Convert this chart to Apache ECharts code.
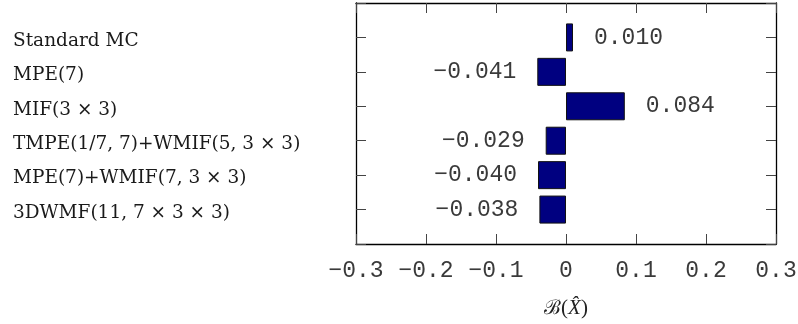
<!DOCTYPE html>
<html>
<head>
<meta charset="utf-8">
<script src="https://cdn.jsdelivr.net/npm/echarts@6/dist/echarts.min.js"></script>
<style>html,body{margin:0;padding:0;background:#fff;}#c{width:798px;height:324px;}</style>
</head>
<body>
<div id="c"></div>
<script>
// Data
const categories = ['Standard MC', 'MPE(7)', 'MIF(3 × 3)', 'TMPE(1/7, 7)+WMIF(5, 3 × 3)', 'MPE(7)+WMIF(7, 3 × 3)', '3DWMF(11, 7 × 3 × 3)'];
const values = [0.010, -0.041, 0.084, -0.029, -0.040, -0.038];
const xTicks = [-0.3, -0.2, -0.1, 0, 0.1, 0.2, 0.3];

// padded categories so ticks sit on the bar centres
const cats = [''].concat(categories, ['']);
const vals = [null].concat(values, [null]);

const fmtNum = (v, d) => {
  if (Math.abs(v) < 1e-9) return '0';
  return v.toFixed(d).replace('-', '\u2212');
};

const chart = echarts.init(document.getElementById('c'), null, {renderer: 'canvas'});
const monoFont = '"Liberation Mono", "Courier New", monospace';
const serifFont = '"DejaVu Serif", "Liberation Serif", serif';
const tickStyle = {show: true, inside: true, length: 10, lineStyle: {color: '#444', width: 1}};
const lineStyle = {show: true, onZero: false, lineStyle: {color: '#000', width: 1.3}};

chart.setOption({
  animation: false,
  grid: {left: 356, right: 22, top: 3, bottom: 80, containLabel: false, outerBoundsMode: 'none'},
  xAxis: [{
    type: 'value', min: xTicks[0], max: xTicks[xTicks.length - 1], interval: 0.1, position: 'bottom',
    axisLine: lineStyle, axisTick: tickStyle, splitLine: {show: false},
    axisLabel: {margin: 15, fontFamily: monoFont, fontSize: 23, color: '#3a3a3a',
      formatter: v => fmtNum(v, 1)},
    name: '{b|ℬ}{n|(}{x|X̂}{n|)}', nameLocation: 'middle', nameGap: 54,
    nameTextStyle: {rich: {
      b: {fontFamily: '"DejaVu Serif", serif', fontSize: 20, color: '#222'},
      n: {fontFamily: '"Liberation Serif", serif', fontSize: 21, color: '#222'},
      x: {fontFamily: '"Liberation Serif", serif', fontStyle: 'italic', fontSize: 21, color: '#222'}
    }}
  }, {
    type: 'value', min: xTicks[0], max: xTicks[xTicks.length - 1], interval: 0.1, position: 'top',
    axisLine: lineStyle, axisTick: tickStyle, axisLabel: {show: false}, splitLine: {show: false}
  }],
  yAxis: [{
    type: 'category', data: cats, inverse: true, boundaryGap: false, position: 'left',
    axisLine: lineStyle, axisTick: tickStyle,
    axisLabel: {margin: 343, align: 'left', interval: 0,
      formatter: v => v ? '{a|' + v + '}' : '',
      rich: {a: {fontFamily: serifFont, fontSize: 18.5, color: '#1a1a1a', padding: [7, 0, 0, 0]}}},
    splitLine: {show: false}
  }, {
    type: 'category', data: cats, inverse: true, boundaryGap: false, position: 'right',
    axisLine: lineStyle, axisTick: tickStyle, axisLabel: {show: false}, splitLine: {show: false}
  }],
  series: [{
    type: 'bar', barWidth: 28, xAxisIndex: 0, yAxisIndex: 0,
    data: vals.map(v => v === null ? null : (v < 0 ? {value: v, label: {position: 'left'}} : {value: v})),
    itemStyle: {color: '#000080', borderColor: '#111', borderWidth: 1},
    label: {
      show: true, distance: 21, fontFamily: monoFont, fontSize: 23, color: '#3a3a3a',
      position: 'right',
      formatter: p => fmtNum(p.value, 3)
    }
  }]
});
</script>
</body>
</html>
